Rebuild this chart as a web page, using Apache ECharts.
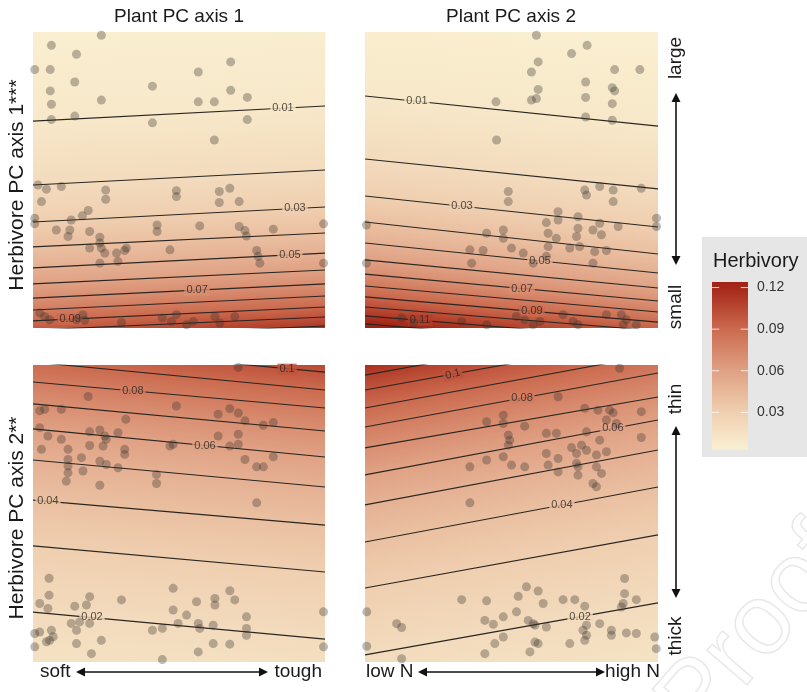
<!DOCTYPE html>
<html><head><meta charset="utf-8">
<script src="https://cdn.jsdelivr.net/npm/echarts@6/dist/echarts.min.js"></script>
<style>html,body{margin:0;padding:0;background:#fff}#c{width:807px;height:692px}</style>
</head><body><div id="c"></div>
<script>
// ---------- colour scale (legend) ----------
const scaleValues = [0, 0.03, 0.06, 0.09, 0.12, 0.13];
const scaleColors = ['#fbf4d6', '#efcfb0', '#e0a184', '#cb6a4e', '#a62818', '#9c1c10'];
const barRange = [0.003, 0.124];
const legendTicks = [0.03, 0.06, 0.09, 0.12];

// ---------- panel 1: Herbivore PC1 x Plant PC1 ----------
const tlPoints = [[23.4,98.9],[6.3,95.5],[14.9,92.5],[0.6,87.3],[5.9,87.3],[14.3,83.1],[5.9,80.1],[6.3,75.6],[23.4,77.0],[6.3,70.4],[14.3,71.6],[40.9,81.7],[40.9,69.3],[56.6,86.5],[67.7,89.9],[67.7,80.3],[56.6,76.4],[62.1,76.4],[73.4,77.9],[73.4,70.4],[62.1,63.5],
[1.7,48.3],[4.6,46.9],[9.7,47.8],[2.9,42.7],[24.9,46.6],[24.9,43.5],[49.1,46.4],[49.1,44.4],[63.8,46.1],[63.8,42.4],[67.4,47.2],[70.6,42.7],[0.6,37.1],[0.6,35.2],[18.9,39.7],[16.9,37.9],[13.1,36.5],[8.0,33.1],[12.0,30.9],[12.6,33.1],[19.4,32.6],[22.9,30.7],[22.9,28.7],[19.4,27.0],[24.6,25.3],[23.4,27.0],[31.4,26.2],[28.6,25.3],[29.1,22.5],[22.9,21.9],[42.5,34.8],[42.5,32.6],[57.1,34.5],[70.6,34.3],[72.6,32.9],[73.1,31.1],[82.3,33.4],[99.5,35.2],[46.9,26.4],[76.6,26.2],[77.1,24.2],[77.7,21.9],[99.5,21.9],[32.0,27.0],
[2.3,5.1],[4.0,3.9],[5.7,2.8],[17.1,4.5],[17.7,2.6],[30.3,1.9],[44.3,3.4],[47.4,2.2],[49.1,4.5],[52.6,1.1],[54.9,2.2],[62.3,3.9],[64.0,1.7],[69.1,3.9],[14.9,2.8]];
const tlContours = [[0.01,69.9,75.0],[0.02,48.3,53.4],[0.03,35.8,40.9],[0.04,27.4,32.1],[0.05,20.3,25.3],[0.06,14.9,19.6],[0.07,10.1,14.9],[0.08,6.1,10.8],[0.09,2.4,7.1],[0.10,-0.7,3.7],[0.11,-3.7,0.7]];
const tlLabels = [['0.01',85.6,74.3,0],['0.03',89.7,40.4,0],['0.05',88.0,24.8,0],['0.07',56.2,12.8,0],['0.09',12.7,3.0,0]];
const tlRange = [0.0037, 0.113];

// ---------- panel 2: Herbivore PC1 x Plant PC2 ----------
const trPoints = [[58.5,98.9],[75.8,95.5],[70.5,92.7],[59.1,89.9],[56.8,86.5],[85.2,87.3],[93.8,87.3],[59.1,80.6],[56.8,77.0],[58.5,77.5],[75.3,83.1],[75.3,77.9],[84.4,81.2],[85.2,80.1],[84.4,75.8],[44.7,76.4],[75.3,71.3],[84.4,70.2],[44.9,63.5],
[48.9,46.1],[48.9,42.7],[75.0,46.6],[75.6,44.9],[80.1,47.8],[84.7,46.6],[94.3,47.2],[84.7,42.7],[65.9,39.3],[65.9,36.5],[61.9,35.6],[72.7,37.6],[80.1,35.4],[77.8,33.1],[80.7,31.5],[86.4,34.3],[99.5,37.1],[99.5,34.3],[0.5,34.8],[41.5,32.0],[47.2,33.1],[47.2,30.3],[62.5,32.0],[65.3,30.3],[72.2,30.9],[72.7,33.7],[69.9,27.0],[73.3,27.5],[78.4,25.8],[82.4,26.2],[35.8,26.4],[36.4,21.9],[40.3,26.2],[50.0,27.0],[54.0,25.3],[62.5,27.5],[61.9,24.2],[77.8,21.9],[0.5,21.9],[57.4,21.9],
[12.5,3.4],[16.5,1.7],[33.0,2.2],[41.5,1.1],[51.7,3.9],[54.5,2.8],[57.4,1.1],[59.7,2.2],[67.6,4.5],[71.0,2.2],[72.7,1.1],[82.4,4.5],[87.5,4.5],[89.2,2.8],[88.1,1.1],[92.6,1.1]];
const trContours = [[0.01,78.4,68.2],[0.02,57.1,47.0],[0.03,44.6,34.1],[0.04,35.8,25.0],[0.05,28.7,18.6],[0.06,23.0,13.5],[0.07,18.2,9.1],[0.08,14.2,5.4],[0.09,10.5,2.0],[0.10,7.1,-1.0],[0.11,4.1,-4.0],[0.12,1.4,-6.8]];
const trLabels = [['0.01',17.7,76.6,0],['0.03',33.1,41.1,0],['0.05',59.7,22.7,0],['0.07',53.6,13.3,0],['0.09',57.0,5.7,0],['0.11',18.8,2.6,0]];
const trRange = [0.0036, 0.128];

// ---------- panel 3: Herbivore PC2 x Plant PC1 ----------
const blPoints = [[70.3,99.2],[18.9,89.4],[49.1,86.2],[2.3,84.6],[4.0,85.1],[9.7,85.1],[63.4,83.4],[67.4,85.3],[70.3,83.8],[72.6,81.2],[78.9,79.7],[82.3,80.6],[31.8,81.7],[2.3,78.9],[5.1,76.1],[9.7,75.0],[19.4,77.5],[22.9,78.1],[24.6,76.1],[29.1,77.2],[25.1,75.0],[2.9,71.6],[12.0,71.6],[19.4,72.9],[24.0,72.7],[31.4,71.6],[31.4,69.9],[16.6,68.8],[12.0,68.2],[12.0,66.0],[12.0,63.7],[11.4,60.9],[17.1,64.3],[22.9,67.6],[25.1,66.5],[29.1,65.4],[22.9,59.5],[46.9,72.7],[48.0,73.3],[63.4,76.1],[70.3,76.7],[70.3,73.3],[67.4,72.7],[72.6,68.2],[76.6,65.7],[78.9,65.7],[82.3,69.1],[42.3,63.1],[42.3,60.1],[76.6,53.6],
[5.5,28.2],[5.5,22.5],[2.3,19.7],[5.1,18.0],[19.4,22.0],[18.3,19.2],[14.3,18.8],[30.3,20.9],[13.1,13.0],[14.9,10.7],[16.0,13.5],[19.4,13.0],[0.6,9.6],[2.3,10.1],[6.3,10.7],[6.9,8.5],[5.7,7.3],[0.6,5.1],[4.6,6.8],[14.9,6.2],[20.0,2.8],[23.4,7.3],[40.9,10.7],[44.3,11.3],[44.3,0.8],[48.0,24.8],[48.0,17.5],[52.6,15.8],[49.7,13.0],[56.0,20.3],[62.3,21.4],[62.3,19.2],[67.4,24.0],[69.1,20.9],[56.6,13.0],[61.7,12.4],[57.1,11.3],[73.1,15.2],[73.1,11.3],[73.1,9.0],[61.7,6.2],[56.6,3.4],[67.4,6.0],[99.5,16.9],[99.5,5.1]];
const blContours = [[0.02,16.8,7.7],[0.03,39.1,30.3],[0.04,54.5,46.1],[0.05,68.0,58.9],[0.06,78.5,69.0],[0.07,86.9,77.8],[0.08,94.3,85.5],[0.09,101.0,91.6],[0.10,106.7,97.6]];
const blLabels = [['0.1',87.0,98.6,0],['0.08',34.2,91.3,0],['0.06',58.9,72.9,0],['0.04',5.1,54.1,0],['0.02',20.2,15.0,0]];
const blRange = [0.0148, 0.105];

// ---------- panel 4: Herbivore PC2 x Plant PC2 ----------
const brPoints = [[86.9,98.9],[65.9,89.3],[75.0,85.4],[79.5,84.8],[83.5,84.8],[84.7,83.9],[94.3,84.3],[82.4,81.5],[85.8,80.3],[94.3,75.6],[41.5,80.9],[47.2,83.1],[47.2,80.3],[54.5,79.4],[48.9,76.4],[49.4,74.7],[48.9,73.0],[61.9,77.0],[65.3,77.0],[75.6,77.5],[80.1,74.7],[73.9,73.0],[70.5,72.2],[75.6,71.3],[61.9,70.2],[65.9,68.5],[62.5,66.3],[72.2,70.2],[72.2,66.9],[79.0,69.7],[82.4,70.8],[72.7,65.7],[65.9,64.0],[72.7,62.9],[79.0,65.7],[80.7,63.5],[77.8,60.1],[79.0,59.0],[35.8,65.7],[41.5,68.0],[47.2,69.1],[50.0,66.3],[54.5,65.7],[35.8,53.6],
[88.6,28.1],[88.6,23.0],[88.1,19.7],[87.5,18.5],[92.6,21.0],[55.1,25.3],[59.1,23.9],[52.3,22.1],[60.8,19.7],[67.6,21.0],[71.6,21.0],[75.0,18.8],[33.0,21.0],[41.5,20.6],[0.6,16.9],[10.8,12.9],[12.5,11.6],[47.2,15.2],[40.9,14.0],[43.8,12.7],[51.7,16.9],[55.7,14.0],[58.0,12.4],[47.2,8.4],[44.3,6.2],[58.0,6.7],[59.1,6.2],[56.3,3.4],[75.6,12.4],[74.4,10.7],[75.6,9.0],[75.0,7.3],[80.1,12.9],[84.1,10.7],[84.1,9.0],[89.2,9.8],[92.6,9.6],[98.9,8.4],[69.9,6.2],[99.4,4.5],[0.6,5.3],[12.5,1.1],[40.9,2.8],[61.9,11.8],[57.4,12.9]];
const brContours = [[0.02,2.4,19.9],[0.03,24.9,42.8],[0.04,40.4,58.9],[0.05,52.9,71.4],[0.06,63.0,81.5],[0.07,72.1,89.2],[0.08,79.1,97.3],[0.09,85.5,103.7],[0.10,91.6,109.4],[0.11,96.6,114.5],[0.12,101.3,119.2]];
const brLabels = [['0.1',30.0,96.9,14],['0.08',53.6,88.9,0],['0.06',84.6,78.7,0],['0.04',67.2,52.8,0],['0.02',73.4,15.2,0]];
const brRange = [0.014, 0.117];

// ---------- helpers ----------
function hex2rgb(h){return [parseInt(h.slice(1,3),16),parseInt(h.slice(3,5),16),parseInt(h.slice(5,7),16)];}
function colorOf(v){
  const n=scaleValues.length;
  v=Math.max(scaleValues[0],Math.min(scaleValues[n-1],v));
  for(let i=0;i<n-1;i++){
    if(v<=scaleValues[i+1]){
      const t=(v-scaleValues[i])/(scaleValues[i+1]-scaleValues[i]);
      const a=hex2rgb(scaleColors[i]),b=hex2rgb(scaleColors[i+1]);
      return 'rgb('+a.map((x,k)=>Math.round(x+(b[k]-x)*t)).join(',')+')';
    }
  }
  return scaleColors[n-1];
}
function bgRender(contours, range){
  return function(params, api){
    const c01=api.coord([0,100]), c10=api.coord([100,0]);
    const corners=[api.coord([0,0]),api.coord([100,100]),c01,c10];
    const a=api.coord([0,contours[0][1]]), b=api.coord([100,contours[0][2]]);
    let dx=b[0]-a[0], dy=b[1]-a[1]; const len=Math.hypot(dx,dy); dx/=len; dy/=len;
    const nx=-dy, ny=dx;
    const proj=p=>p[0]*nx+p[1]*ny;
    const cp=corners.map(proj);
    const pmin=Math.min(...cp), pmax=Math.max(...cp);
    const st=contours.map(c=>{
      const p=api.coord([0,c[1]]), q=api.coord([100,c[2]]);
      return [(proj([(p[0]+q[0])/2,(p[1]+q[1])/2])-pmin)/(pmax-pmin), c[0]];
    });
    const inc=st[st.length-1][0]>st[0][0];
    st.push([0, inc?range[0]:range[1]]);
    st.push([1, inc?range[1]:range[0]]);
    const cs=st.filter(s=>s[0]>=0&&s[0]<=1).sort((u,v)=>u[0]-v[0]).map(s=>({offset:s[0],color:colorOf(s[1])}));
    const grad=new echarts.graphic.LinearGradient(nx*pmin,ny*pmin,nx*pmax,ny*pmax,cs,true);
    return {type:'rect',shape:{x:c01[0],y:c01[1],width:c10[0]-c01[0],height:c10[1]-c01[1]},style:{fill:grad}};
  };
}
function arrow(x1,y1,x2,y2){
  const L=9,W=4.5; const dx=x2-x1, dy=y2-y1, len=Math.hypot(dx,dy), ux=dx/len, uy=dy/len;
  const head=(tx,ty,sx,sy)=>({type:'polygon',shape:{points:[[tx,ty],[tx-sx*L-sy*W,ty-sy*L+sx*W],[tx-sx*L+sy*W,ty-sy*L-sx*W]]},style:{fill:'#111'}});
  return {type:'group',children:[
    {type:'line',shape:{x1:x1+ux*L*0.8,y1:y1+uy*L*0.8,x2:x2-ux*L*0.8,y2:y2-uy*L*0.8},style:{stroke:'#111',lineWidth:1.6}},
    head(x2,y2,ux,uy), head(x1,y1,-ux,-uy)
  ]};
}
function txt(s,x,y,opt){
  opt=opt||{};
  return {type:'text',x:x,y:y,rotation:opt.rot||0,z:50,style:{text:s,fontSize:opt.size||19,fontFamily:'Liberation Sans, Arial, sans-serif',fill:'#1a1a1a',align:opt.align||'center',verticalAlign:'middle'}};
}

const panels=[
  {pts:tlPoints,cont:tlContours,labs:tlLabels,range:tlRange},
  {pts:trPoints,cont:trContours,labs:trLabels,range:trRange},
  {pts:blPoints,cont:blContours,labs:blLabels,range:blRange},
  {pts:brPoints,cont:brContours,labs:brLabels,range:brRange}
];
const grids=[
  {left:33,top:32,width:292,height:296},
  {left:365,top:32,width:293,height:296},
  {left:33,top:365,width:292,height:297},
  {left:365,top:365,width:293,height:297},
  {left:712,top:282,width:36,height:172}
];
const xAxes=[],yAxes=[],series=[];
panels.forEach((p,i)=>{
  xAxes.push({type:'value',gridIndex:i,min:0,max:100,show:false});
  yAxes.push({type:'value',gridIndex:i,min:0,max:100,show:false});
  series.push({type:'custom',xAxisIndex:i,yAxisIndex:i,renderItem:bgRender(p.cont,p.range),data:[[50,50]],z:1,silent:true,clip:true});
  p.cont.forEach(c=>{
    series.push({type:'line',xAxisIndex:i,yAxisIndex:i,data:[[0,c[1]],[100,c[2]]],symbol:'none',clip:true,silent:true,z:2,
      lineStyle:{color:'#2a2622',width:1.1}});
  });
  series.push({type:'scatter',xAxisIndex:i,yAxisIndex:i,symbolSize:0,z:3,silent:true,
    data:p.labs.map(l=>({name:l[0],value:[l[1],l[2]],label:{backgroundColor:colorOf(parseFloat(l[0])),rotate:l[3]}})),
    label:{show:true,position:'inside',formatter:'{b}',fontSize:11,color:'#2a2622',padding:[0,2],fontFamily:'Liberation Sans, Arial, sans-serif'}});
  series.push({type:'scatter',xAxisIndex:i,yAxisIndex:i,data:p.pts,symbolSize:9,z:4,silent:true,
    itemStyle:{color:'rgba(55,50,45,0.42)'}});
});
xAxes.push({type:'value',gridIndex:4,min:0,max:1,show:false});
yAxes.push({type:'value',gridIndex:4,min:0,max:0.124,interval:0.03,position:'right',
  axisLine:{show:false},axisTick:{show:false},splitLine:{show:false},
  axisLabel:{margin:9,fontSize:14,color:'#333',fontFamily:'Liberation Sans, Arial, sans-serif',
    formatter:v=>legendTicks.some(t=>Math.abs(t-v)<1e-9)?v.toFixed(2):''}});
series.push({type:'custom',xAxisIndex:4,yAxisIndex:4,data:[[0.5,0.06]],z:3,silent:true,renderItem:(params,api)=>{
  const lo=api.coord([0,barRange[0]]), hi=api.coord([1,barRange[1]]);
  const vals=[barRange[0]].concat(scaleValues.filter(v=>v>barRange[0]&&v<barRange[1]),[barRange[1]]);
  const stops=vals.map(v=>({offset:(v-barRange[0])/(barRange[1]-barRange[0]),color:colorOf(v)}));
  const grad=new echarts.graphic.LinearGradient(0,lo[1],0,hi[1],stops,true);
  const w=hi[0]-lo[0];
  const ch=[{type:'rect',shape:{x:lo[0],y:hi[1],width:w,height:lo[1]-hi[1]},style:{fill:grad}}];
  legendTicks.forEach(t=>{const y=api.coord([0,t])[1];
    ch.push({type:'line',shape:{x1:lo[0],y1:y,x2:lo[0]+w*0.2,y2:y},style:{stroke:'rgba(255,255,255,0.8)',lineWidth:1}});
    ch.push({type:'line',shape:{x1:hi[0]-w*0.2,y1:y,x2:hi[0],y2:y},style:{stroke:'rgba(255,255,255,0.8)',lineWidth:1}});
  });
  return {type:'group',children:ch};
}});

const graphic=[
  {type:'rect',z:-10,shape:{x:702,y:237,width:110,height:220},style:{fill:'#e6e6e6'}},
  txt('Herbivory',713,261,{align:'left',size:20}),
  txt('Plant PC axis 1',179,17),
  txt('Plant PC axis 2',511,17),
  txt('Herbivore PC axis 1***',17,185,{rot:Math.PI/2,size:21}),
  txt('Herbivore PC axis 2**',17,518,{rot:Math.PI/2,size:21}),
  txt('soft',40,672,{align:'left'}),
  txt('tough',322,672,{align:'right'}),
  txt('low N',366,672,{align:'left'}),
  txt('high N',660,672,{align:'right'}),
  txt('large',676,58,{rot:Math.PI/2}),
  txt('small',676,307,{rot:Math.PI/2}),
  txt('thin',676,399,{rot:Math.PI/2}),
  txt('thick',676,636,{rot:Math.PI/2}),
  arrow(76,672,268,672),
  arrow(418,672,605,672),
  arrow(676,93,676,265),
  arrow(676,426,676,598),
  {type:'text',x:756,y:632,rotation:0.86,z:60,silent:true,style:{text:'Proof',fontSize:100,fontFamily:'Liberation Sans, Arial, sans-serif',fill:'rgba(0,0,0,0)',stroke:'rgba(190,190,190,0.35)',lineWidth:1.5,align:'center',verticalAlign:'middle'}}
];

const chart=echarts.init(document.getElementById('c'),null,{renderer:'canvas'});
chart.setOption({animation:false,grid:grids,xAxis:xAxes,yAxis:yAxes,series:series,graphic:graphic});
</script></body></html>
